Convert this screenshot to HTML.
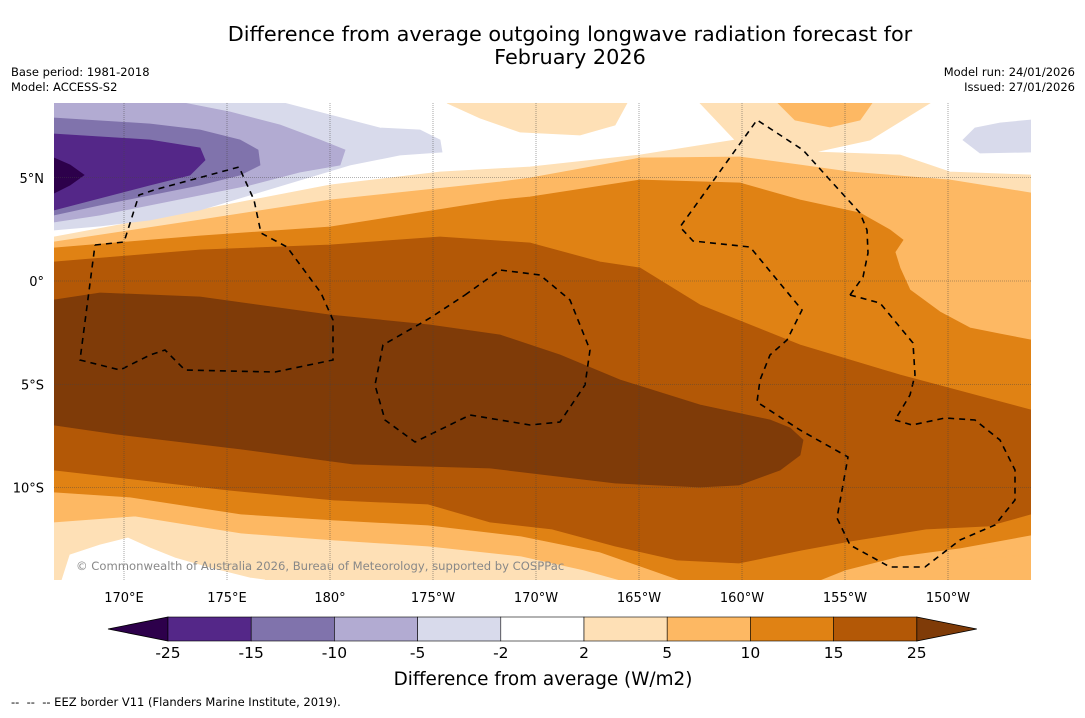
<!DOCTYPE html>
<html><head><meta charset="utf-8"><style>
body{margin:0;background:#fff;width:1085px;height:713px;overflow:hidden;font-family:"Liberation Sans","DejaVu Sans",sans-serif}
svg text{font-family:"DejaVu Sans","Liberation Sans",sans-serif}
</style></head><body>
<svg id="c" width="1085" height="713" viewBox="0 0 1085 713" xmlns="http://www.w3.org/2000/svg">
<text x="570" y="41" font-size="20.8" text-anchor="middle" fill="#000">Difference from average outgoing longwave radiation forecast for</text>
<text x="570" y="64" font-size="20.8" text-anchor="middle" fill="#000">February 2026</text>
<text x="11" y="76" font-size="11.5">Base period: 1981-2018</text>
<text x="11" y="91" font-size="11.5">Model: ACCESS-S2</text>
<text x="1075" y="76" font-size="11.5" text-anchor="end">Model run: 24/01/2026</text>
<text x="1075" y="91" font-size="11.5" text-anchor="end">Issued: 27/01/2026</text>
<defs><clipPath id="mc"><rect x="54" y="103" width="977" height="477"/></clipPath></defs>
<g id="map" clip-path="url(#mc)"></g>
<g id="axes"></g>
<g id="cbar"></g>
<text x="543" y="685" font-size="18.4" text-anchor="middle">Difference from average (W/m2)</text>
<text x="11" y="706" font-size="11.5" xml:space="preserve">--  --  -- EEZ border V11 (Flanders Marine Institute, 2019).</text>
</svg>
<script>
const NS="http://www.w3.org/2000/svg";
const levels=[-25,-15,-10,-5,-2,2,5,10,15,25];
const colors=["#2d004b","#542788","#8073ac","#b2abd2","#d8daeb","#ffffff","#fee0b6","#fdb863","#e08214","#b35806","#7f3b08"];
const lonTicks=[170,175,180,185,190,195,200,205,210];
const lonLabels=["170°E","175°E","180°","175°W","170°W","165°W","160°W","155°W","150°W"];
const latTicks=[5,0,-5,-10];
const latLabels=["5°N","0°","5°S","10°S"];
const X=lon=>124+(lon-170)*20.6;
const Y=lat=>281-lat*20.65;
const shapes=[
 [6,[[54,237],[200,210],[330,185],[440,172],[530,167],[640,155],[735,140],[700,103],[930,103],[870,140],[815,152],[900,155],[950,172],[1031,175],[1031,580],[54,580]]],
 [6,[[447,103],[480,118],[520,132],[580,135],[615,125],[627,103]]],
 [5,[[62,580],[70,555],[100,545],[128,538],[150,548],[175,558],[210,568],[250,578],[265,580]]],
 [7,[[778,103],[872,103],[860,120],[830,127],[795,120]]],
 [7,[[54,242],[200,220],[330,200],[500,182],[530,178],[640,158],[740,157],[800,165],[850,172],[950,180],[1031,193],[1031,580],[845,580],[900,565],[960,560],[1031,555],[1031,580],[620,580],[584,570],[521,556],[428,546],[334,540],[241,533],[135,516],[54,522]]],
 [8,[[54,248],[200,236],[330,227],[500,200],[530,197],[640,180],[740,183],[800,200],[860,213],[890,230],[903,240],[895,252],[900,268],[910,290],[940,312],[970,328],[1000,334],[1031,340],[1031,535],[960,548],[900,556],[845,570],[820,580],[680,580],[600,552],[521,536],[428,525],[334,520],[241,514],[130,497],[54,492]]],
 [9,[[54,262],[200,250],[330,245],[440,237],[530,243],[600,262],[640,268],[700,305],[800,345],[900,375],[1031,410],[1031,514],[988,526],[926,529],[851,541],[802,550],[739,563],[677,560],[615,546],[552,529],[490,522],[428,504],[334,500],[228,490],[54,470]]],
 [10,[[54,300],[100,293],[200,297],[330,315],[430,325],[500,335],[560,355],[620,380],[700,405],[770,420],[790,428],[803,440],[800,455],[780,470],[739,485],[700,487],[615,483],[490,468],[353,464],[241,449],[116,434],[54,425]]],
 [4,[[54,103],[284,103],[330,115],[380,128],[420,130],[440,140],[442,152],[400,155],[350,165],[300,180],[250,195],[200,210],[150,220],[100,226],[54,230]]],
 [3,[[54,103],[184,103],[230,112],[280,125],[320,140],[345,150],[340,165],[300,172],[250,185],[200,195],[150,205],[100,215],[54,222]]],
 [2,[[54,118],[150,124],[200,130],[240,140],[258,150],[260,165],[240,175],[200,185],[150,195],[100,205],[54,215]]],
 [1,[[54,134],[150,140],[200,148],[205,160],[190,175],[150,185],[100,198],[54,210]]],
 [0,[[54,158],[70,165],[84,175],[70,185],[54,193]]],
 [4,[[975,128],[1000,123],[1031,120],[1031,152],[980,153],[963,140]]]
];
const eez=[
 [[95,245],[124,242],[139,195],[154,190],[239,167],[254,200],[261,233],[287,247],[321,293],[333,320],[333,360],[275,372],[185,370],[165,350],[150,355],[120,370],[80,360],[95,245]],
 [[465,295],[500,270],[540,275],[570,300],[590,350],[585,385],[560,422],[530,425],[470,415],[415,442],[385,420],[375,385],[383,345],[430,318],[465,295]],
 [[850,295],[863,277],[868,253],[867,230],[860,213],[830,180],[803,150],[757,120],[680,227],[693,241],[750,247],[802,310],[787,340],[770,355],[760,380],[757,402],[800,430],[848,457],[837,518],[850,545],[890,567],[925,567],[960,540],[995,525],[1015,500],[1015,470],[1000,440],[975,420],[945,418],[912,425],[895,420]],
 [[850,295],[880,303],[913,343],[915,375],[910,395],[895,420]]
];
const map=document.getElementById('map');
const bg=document.createElementNS(NS,'rect');
bg.setAttribute('x',54);bg.setAttribute('y',103);bg.setAttribute('width',977);bg.setAttribute('height',477);bg.setAttribute('fill','#fff');


map.appendChild(bg);
shapes.forEach(s=>{
 const p=document.createElementNS(NS,'polygon');
 p.setAttribute('points',s[1].map(q=>q.join(',')).join(' '));
 p.setAttribute('fill',colors[s[0]]);
 p.setAttribute('stroke',colors[s[0]]);p.setAttribute('stroke-width','0.8');
 
 
 map.appendChild(p);
});
eez.forEach(l=>{
 const p=document.createElementNS(NS,'polyline');
 p.setAttribute('points',l.map(q=>q.join(',')).join(' '));
 p.setAttribute('fill','none');p.setAttribute('stroke','#000');p.setAttribute('stroke-width','1.6');p.setAttribute('stroke-dasharray','6,5');
 
 
 map.appendChild(p);
});
const ax=document.getElementById('axes');
lonTicks.forEach((lo,i)=>{
 const x=X(lo);
 const l=document.createElementNS(NS,'line');
 l.setAttribute('x1',x);l.setAttribute('x2',x);l.setAttribute('y1',103);l.setAttribute('y2',580);
 l.setAttribute('stroke','#444');l.setAttribute('stroke-width','0.6');l.setAttribute('stroke-dasharray','1,1');l.setAttribute('opacity','0.8');
 
 
 ax.appendChild(l);
 const t=document.createElementNS(NS,'text');
 t.setAttribute('x',x);t.setAttribute('y',602);t.setAttribute('font-size','13');t.setAttribute('text-anchor','middle');
 t.textContent=lonLabels[i];
 
 
 ax.appendChild(t);
});
latTicks.forEach((la,i)=>{
 const y=Y(la);
 const l=document.createElementNS(NS,'line');
 l.setAttribute('x1',54);l.setAttribute('x2',1031);l.setAttribute('y1',y);l.setAttribute('y2',y);
 l.setAttribute('stroke','#444');l.setAttribute('stroke-width','0.6');l.setAttribute('stroke-dasharray','1,1');l.setAttribute('opacity','0.8');
 
 
 ax.appendChild(l);
 const t=document.createElementNS(NS,'text');
 t.setAttribute('x',44);t.setAttribute('y',y+5);t.setAttribute('font-size','13');t.setAttribute('text-anchor','end');
 t.textContent=latLabels[i];
 
 
 ax.appendChild(t);
});
const cr=document.createElementNS(NS,'text');
cr.setAttribute('x',76);cr.setAttribute('y',570);cr.setAttribute('font-size','11.6');cr.setAttribute('fill','#888');
cr.textContent='© Commonwealth of Australia 2026, Bureau of Meteorology, supported by COSPPac';


ax.appendChild(cr);
const cb=document.getElementById('cbar');
const x0=168,bw=83.2,cy=617,ch=24;
const tl=document.createElementNS(NS,'polygon');
tl.setAttribute('points',`108,${cy+ch/2} ${x0},${cy} ${x0},${cy+ch}`);tl.setAttribute('fill',colors[0]);tl.setAttribute('stroke','#000');tl.setAttribute('stroke-width','0.8');


cb.appendChild(tl);
for(let i=0;i<levels.length-1;i++){
 const r=document.createElementNS(NS,'rect');
 r.setAttribute('x',x0+i*bw);r.setAttribute('y',cy);r.setAttribute('width',bw);r.setAttribute('height',ch);
 r.setAttribute('fill',colors[i+1]);r.setAttribute('stroke','#000');r.setAttribute('stroke-width','0.6');
 
 
 cb.appendChild(r);
}
const xe=x0+(levels.length-1)*bw;
const tr=document.createElementNS(NS,'polygon');
tr.setAttribute('points',`${xe},${cy} ${xe+60},${cy+ch/2} ${xe},${cy+ch}`);tr.setAttribute('fill',colors[10]);tr.setAttribute('stroke','#000');tr.setAttribute('stroke-width','0.8');


cb.appendChild(tr);
levels.forEach((v,i)=>{
 const t=document.createElementNS(NS,'text');
 t.setAttribute('x',x0+i*bw);t.setAttribute('y',658);t.setAttribute('font-size','15.5');t.setAttribute('text-anchor','middle');
 t.textContent=v;
 
 
 cb.appendChild(t);
});
</script>
</body></html>
